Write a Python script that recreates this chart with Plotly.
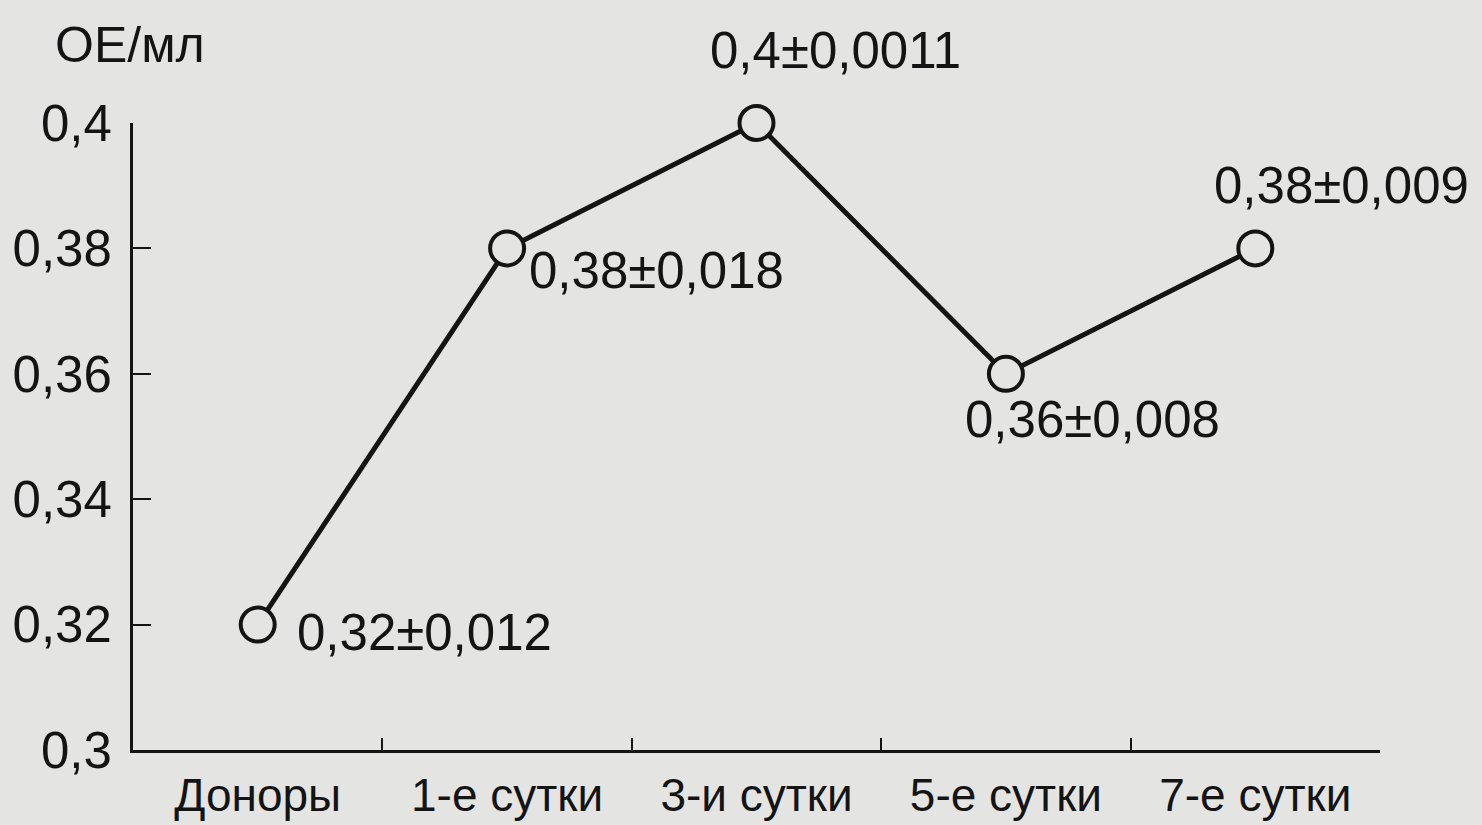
import plotly.graph_objects as go

# Measurements over the observation period
categories = ["Доноры", "1-е сутки", "3-и сутки", "5-е сутки", "7-е сутки"]
values = [0.32, 0.38, 0.40, 0.36, 0.38]
errors = ["0,012", "0,018", "0,0011", "0,008", "0,009"]

y_ticks = [0.30, 0.32, 0.34, 0.36, 0.38, 0.40]
y_tick_text = ["0,3", "0,32", "0,34", "0,36", "0,38", "0,4"]

BG = "#e4e5e3"
INK = "#141414"
FONT = "Liberation Sans, Arial, sans-serif"
FS_NUM = 51
FS_CAT = 46

fig = go.Figure()
fig.add_trace(go.Scatter(
    x=categories,
    y=values,
    mode="lines+markers",
    line=dict(color=INK, width=5),
    marker=dict(symbol="circle", size=34, color=BG,
                line=dict(color=INK, width=4)),
    cliponaxis=False,
    showlegend=False,
))

# value ± error labels: (xanchor, xshift, yshift) per point
label_place = [
    ("left", 37, -8),
    ("left", 20, -22),
    ("center", 79, 73),
    ("center", 87, -46),
    ("left", -43, 63),
]
for cat, v, err, (xa, dx, dy) in zip(categories, values, errors, label_place):
    txt = f"{v:.2f}".rstrip("0").replace(".", ",") + "±" + err
    fig.add_annotation(
        x=cat, y=v, text=txt, showarrow=False,
        xanchor=xa, yanchor="middle", xshift=dx, yshift=dy,
        font=dict(family=FONT, size=FS_NUM, color=INK),
    )

# axis unit
fig.add_annotation(
    xref="paper", yref="paper", x=0, y=1, text="ОЕ/мл", showarrow=False,
    xanchor="left", yanchor="middle", xshift=-80, yshift=78,
    font=dict(family=FONT, size=50, color=INK),
)

fig.update_layout(
    width=1482, height=825,
    margin=dict(l=133, r=102, t=123, b=75),
    paper_bgcolor=BG, plot_bgcolor=BG,
    font=dict(family=FONT, size=FS_CAT, color=INK),
    xaxis=dict(
        type="category", range=[-0.5, 4.5], automargin=False,
        showline=True, linecolor=INK, linewidth=3,
        showgrid=False, zeroline=False,
        ticks="inside", tickson="boundaries", ticklen=12, tickwidth=2, tickcolor=INK,
        tickfont=dict(family=FONT, size=FS_CAT, color=INK),
        ticklabelstandoff=3,
    ),
    yaxis=dict(
        range=[0.30, 0.40], automargin=False,
        tickvals=y_ticks, ticktext=y_tick_text,
        showline=True, linecolor=INK, linewidth=3,
        showgrid=False, zeroline=False,
        ticks="inside", ticklen=18, tickwidth=2, tickcolor=INK,
        tickfont=dict(family=FONT, size=FS_NUM, color=INK),
        ticklabelstandoff=8,
    ),
)

fig.write_html("out.html")
